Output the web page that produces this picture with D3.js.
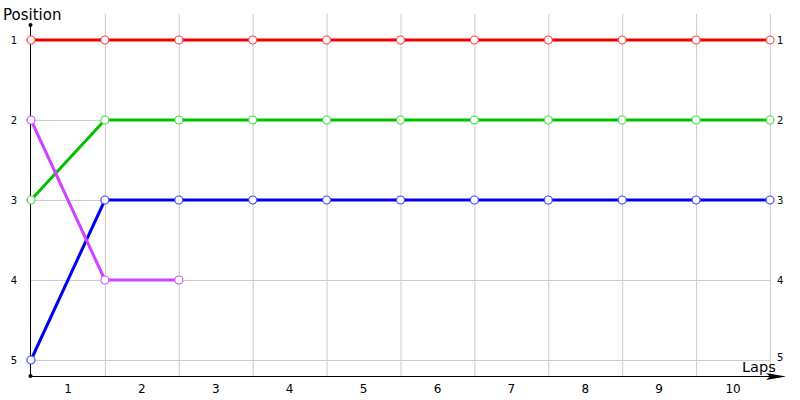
<!DOCTYPE html>
<html>
<head>
<meta charset="UTF-8">
<title>Lap chart</title>
<script src="https://cdn.jsdelivr.net/npm/d3@7"></script>
<style>
  body { margin: 0; background: #fff; }
  text { font-family: "DejaVu Sans", Verdana, sans-serif; }
</style>
</head>
<body>
<div id="chart"></div>
<script>
// laps 0..10, position of each driver at every lap
const laps = [0, 1, 2, 3, 4, 5, 6, 7, 8, 9, 10];
const lapLabels = ["1", "2", "3", "4", "5", "6", "7", "8", "9", "10"];
const positions = [1, 2, 3, 4, 5];
const redPos    = [1, 1, 1, 1, 1, 1, 1, 1, 1, 1, 1];
const greenPos  = [3, 2, 2, 2, 2, 2, 2, 2, 2, 2, 2];
const bluePos   = [5, 3, 3, 3, 3, 3, 3, 3, 3, 3, 3];
const purplePos = [2, 4, 4];

const series = [
  { values: redPos,    line: "#ee0000", marker: "#ff4444" },
  { values: greenPos,  line: "#00c000", marker: "#44dd44" },
  { values: bluePos,   line: "#0000ee", marker: "#4444ff" },
  { values: purplePos, line: "#cc44ff", marker: "#cc55ff" }
];

const width = 800, height = 400;
const svg = d3.select("#chart").append("svg")
  .attr("width", width).attr("height", height);

const x = d3.scaleLinear().domain([0, 10]).range([31, 770]);
const y = d3.scaleLinear().domain([1, 5]).range([40, 360]);
const axisY = 376;

// grid
svg.append("g").selectAll("line")
  .data(laps.slice(1))
  .join("line")
  .attr("x1", d => x(d) + 0.5).attr("x2", d => x(d) + 0.5)
  .attr("y1", 14).attr("y2", axisY)
  .attr("stroke", "#cccccc").attr("stroke-width", 1);

svg.append("g").selectAll("line")
  .data(positions)
  .join("line")
  .attr("x1", x(0)).attr("x2", x(10))
  .attr("y1", d => y(d) + 0.5).attr("y2", d => y(d) + 0.5)
  .attr("stroke", "#cccccc").attr("stroke-width", 1);

// axes
svg.append("line")
  .attr("x1", x(0) - 0.5).attr("x2", x(0) - 0.5)
  .attr("y1", 25).attr("y2", axisY)
  .attr("stroke", "#000");
svg.append("circle").attr("cx", x(0) - 0.5).attr("cy", 25).attr("r", 2).attr("fill", "#000");
svg.append("circle").attr("cx", x(0) - 0.5).attr("cy", axisY).attr("r", 2).attr("fill", "#000");
svg.append("line")
  .attr("x1", x(0)).attr("x2", 782)
  .attr("y1", axisY + 0.5).attr("y2", axisY + 0.5)
  .attr("stroke", "#000");
svg.append("path")
  .attr("d", `M786,${axisY + 0.5} L766,${axisY - 3} L770,${axisY + 0.5} L766,${axisY + 4} Z`)
  .attr("fill", "#000");

// position labels, left and right
svg.append("g").selectAll("text")
  .data(positions)
  .join("text")
  .attr("x", 14).attr("y", d => y(d) + 3.5)
  .attr("text-anchor", "middle")
  .attr("font-size", 10)
  .text(d => d);
svg.append("g").selectAll("text")
  .data(positions)
  .join("text")
  .attr("x", 777).attr("y", d => y(d) + (d === 5 ? 1 : 3.5))
  .attr("font-size", 10)
  .text(d => d);

// lap labels between gridlines
svg.append("g").selectAll("text")
  .data(lapLabels)
  .join("text")
  .attr("x", (d, i) => x(i + 0.5))
  .attr("y", 393)
  .attr("text-anchor", "middle")
  .attr("font-size", 12)
  .text(d => d);

svg.append("text").attr("x", 3).attr("y", 20).attr("font-size", 15).text("Position");
svg.append("text").attr("x", 742).attr("y", 372).attr("font-size", 14.5).text("Laps");

// lines
const line = d3.line().x((d, i) => x(laps[i])).y(d => y(d));
svg.append("g").selectAll("path")
  .data(series)
  .join("path")
  .attr("d", d => line(d.values))
  .attr("fill", "none")
  .attr("stroke", d => d.line)
  .attr("stroke-width", 3);

// markers
series.forEach(s => {
  svg.append("g").selectAll("circle")
    .data(s.values)
    .join("circle")
    .attr("cx", (d, i) => x(laps[i]))
    .attr("cy", d => y(d))
    .attr("r", 4)
    .attr("fill", "#fff")
    .attr("stroke", s.marker)
    .attr("stroke-width", 1.2);
});
</script>
</body>
</html>
